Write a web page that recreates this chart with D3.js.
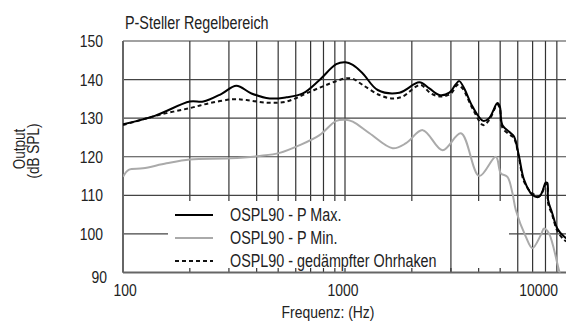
<!DOCTYPE html>
<html>
<head>
<meta charset="utf-8">
<script src="https://cdn.jsdelivr.net/npm/d3@7"></script>
<style>
  body { margin: 0; background: #fff; }
  svg text { font-family: "Liberation Sans", Arial, sans-serif; fill: #222; }
</style>
</head>
<body>
<script>
"use strict";
(function(){
    // tick labels
    const yTicks = [90, 100, 110, 120, 130, 140, 150]
    const xLabels = [100, 1000, 10000]
    const xGrid = [100, 200, 300, 400, 500, 600, 700, 800, 900, 1000, 2000, 3000, 4000, 5000, 6000, 7000, 8000, 9000, 10000]

    // OSPL90 - P Max. (Hz, dB SPL)
    const maxFreq = [100, 139, 200, 230, 278, 324, 379, 458, 544, 646, 768, 913, 1005, 1084, 1202, 1404, 1758, 2162, 2398, 2659, 2951, 3138, 3270, 3444, 3753, 4191, 4457, 4860, 4983, 5119, 5585, 5779, 6085, 6410, 6984, 7486, 7745, 8018, 8155, 8218, 8588, 9043, 9694, 10000]
    const maxVal  = [128.4, 130.6, 134.3, 134.3, 136.3, 138.4, 136.4, 135.1, 135.4, 136.4, 139.9, 144, 144.5, 143.8, 141.6, 137.3, 136.6, 139.3, 137.7, 136, 136.6, 138.6, 139.6, 137.7, 133, 129.3, 130, 133.9, 133, 128.2, 126.1, 125.2, 120, 114, 110.1, 109.6, 111, 113.3, 113.2, 108.8, 105.3, 101.4, 99.3, 98.8]

    // OSPL90 - P Min.
    const minFreq = [100, 106, 123, 157, 200, 303, 413, 508, 625, 768, 913, 1005, 1084, 1289, 1640, 1884, 2239, 2752, 3327, 4023, 4780, 5035, 5390, 5677, 5880, 6520, 6984, 7621, 7881, 8297, 9203, 9500]
    const minVal  = [114.8, 116.6, 117, 118.3, 119.3, 119.6, 120.2, 121, 123, 125.6, 129.3, 129.6, 129.1, 126.1, 122.2, 123.5, 126.9, 121.7, 126.1, 115, 120, 115.7, 114.8, 110.6, 106.2, 99.3, 96.3, 99.7, 101.4, 100.1, 90.6, 88]

    // OSPL90 - gedämpfter Ohrhaken
    const dampFreq = [100, 123, 157, 200, 246, 313, 360, 442, 544, 669, 823, 1005, 1084, 1202, 1429, 1640, 1819, 2089, 2200, 2440, 2705, 3000, 3213, 3383, 3753, 4191, 4457, 4860, 4983, 5119, 5585, 5779, 6085, 6410, 6984, 7486, 7745, 8018, 8155, 8218, 8588, 9043, 9694, 10000]
    const dampVal  = [128.2, 129.7, 131.3, 132.6, 133.9, 134.9, 134.7, 134, 134.3, 136.4, 138.6, 140.3, 140.2, 138.6, 136, 135.1, 135.6, 138.2, 138.6, 136.4, 135.6, 136.4, 138.6, 137.7, 132.5, 128.2, 129.5, 133.5, 132.5, 127.5, 125.5, 124.8, 119.5, 113.5, 110.5, 109.8, 110.8, 113, 112.5, 108, 104.8, 100.8, 98.5, 98]

    const seriesNames = ["OSPL90 - P Max.", "OSPL90 - P Min.", "OSPL90 - gedämpfter Ohrhaken"]

    const measurements = { width: 566, height: 322, left: 123, right: 567, top: 41, bottom: 272.5 }
    // the original uses a condensed face: squeeze a normal one
    const squeeze = 0.82

    let svg = d3.select('body').append('svg')
        .attr('width', measurements.width)
        .attr('height', measurements.height)

    let scaleX = d3.scaleLog()
        .domain([100, 10000])
        .range([measurements.left, measurements.right])
    let scaleY = d3.scaleLinear()
        .domain([90, 150])
        .range([measurements.bottom, measurements.top])

    function addText(parent, x, y, str, size, anchor, rotate) {
        return parent.append('text')
            .attr('transform', 'translate(' + x + ',' + y + ')' + (rotate ? ' rotate(' + rotate + ')' : '') + ' scale(' + squeeze + ',1)')
            .attr('text-anchor', anchor || 'start')
            .style('font-size', size + 'px')
            .text(str)
    }

    svg.append('clipPath').attr('id', 'plot-clip')
        .append('rect')
        .attr('x', measurements.left)
        .attr('y', measurements.top)
        .attr('width', measurements.width - measurements.left)
        .attr('height', measurements.bottom - measurements.top)

    // grid
    let grid = svg.append('g')
    grid.selectAll('.vgrid').data(xGrid).enter().append('line')
        .attr('x1', d => scaleX(d)).attr('x2', d => scaleX(d))
        .attr('y1', measurements.top).attr('y2', measurements.bottom)
        .attr('stroke', '#333').attr('stroke-width', 1.2)
    grid.selectAll('.hgrid').data(yTicks.filter(d => d > 90)).enter().append('line')
        .attr('x1', measurements.left).attr('x2', measurements.width)
        .attr('y1', d => scaleY(d)).attr('y2', d => scaleY(d))
        .attr('stroke', '#444').attr('stroke-width', 1.2)

    // legend background hides the grid
    svg.append('rect')
        .attr('x', 168).attr('y', 201)
        .attr('width', 509 - 168).attr('height', 268 - 201)
        .attr('fill', '#fff')
    svg.append('line')
        .attr('x1', scaleX(3000)).attr('x2', scaleX(3000))
        .attr('y1', 201).attr('y2', measurements.bottom)
        .attr('stroke', '#333').attr('stroke-width', 1.2)

    // axes frame
    svg.append('line')
        .attr('x1', measurements.left).attr('x2', measurements.left)
        .attr('y1', measurements.top).attr('y2', measurements.bottom)
        .attr('stroke', '#666').attr('stroke-width', 2)
    svg.append('line')
        .attr('x1', measurements.left).attr('x2', measurements.width)
        .attr('y1', measurements.bottom).attr('y2', measurements.bottom)
        .attr('stroke', '#666').attr('stroke-width', 2)

    // curves
    const line = d3.line()
        .x(d => scaleX(d[0]))
        .y(d => scaleY(d[1]))
        .curve(d3.curveCatmullRom.alpha(0.5))

    let curves = svg.append('g').attr('clip-path', 'url(#plot-clip)')
    curves.append('path')
        .datum(d3.zip(minFreq, minVal))
        .attr('d', line)
        .attr('fill', 'none').attr('stroke', '#aaa').attr('stroke-width', 2)
    curves.append('path')
        .datum(d3.zip(dampFreq, dampVal))
        .attr('d', line)
        .attr('fill', 'none').attr('stroke', '#111').attr('stroke-width', 2)
        .attr('stroke-dasharray', '4,3')
    curves.append('path')
        .datum(d3.zip(maxFreq, maxVal))
        .attr('d', line)
        .attr('fill', 'none').attr('stroke', '#000').attr('stroke-width', 2)

    // tick labels
    yTicks.forEach(function(d) {
        if (d === 90) addText(svg, 107, 283, d, 17, 'end')
        else addText(svg, 103, scaleY(d) + 6, d, 17, 'end')
    })
    xLabels.forEach(function(d) {
        if (d === 10000) addText(svg, 558, 296, d, 17, 'end')
        else addText(svg, scaleX(d) + (d === 100 ? 2 : -2), 296, d, 17, 'middle')
    })

    // titles
    addText(svg, 125, 29, 'P-Steller Regelbereich', 17.5)
    addText(svg, 328, 318, 'Frequenz: (Hz)', 17, 'middle')
    addText(svg, 25, 149, 'Output', 16.5, 'middle', -90)
    addText(svg, 39, 151, '(dB SPL)', 16.5, 'middle', -90)

    // legend
    const legendStyles = [
        { stroke: '#000', dash: null },
        { stroke: '#aaa', dash: null },
        { stroke: '#111', dash: '4,3' }
    ]
    let legend = svg.append('g')
    seriesNames.forEach(function(name, i) {
        let y = 215 + i * 23
        legend.append('line')
            .attr('x1', 175).attr('x2', 213)
            .attr('y1', y).attr('y2', y)
            .attr('stroke', legendStyles[i].stroke)
            .attr('stroke-width', 2)
            .attr('stroke-dasharray', legendStyles[i].dash)
        addText(legend, 230, y + 6, name, 17.5)
    })
})()
</script>
</body>
</html>
